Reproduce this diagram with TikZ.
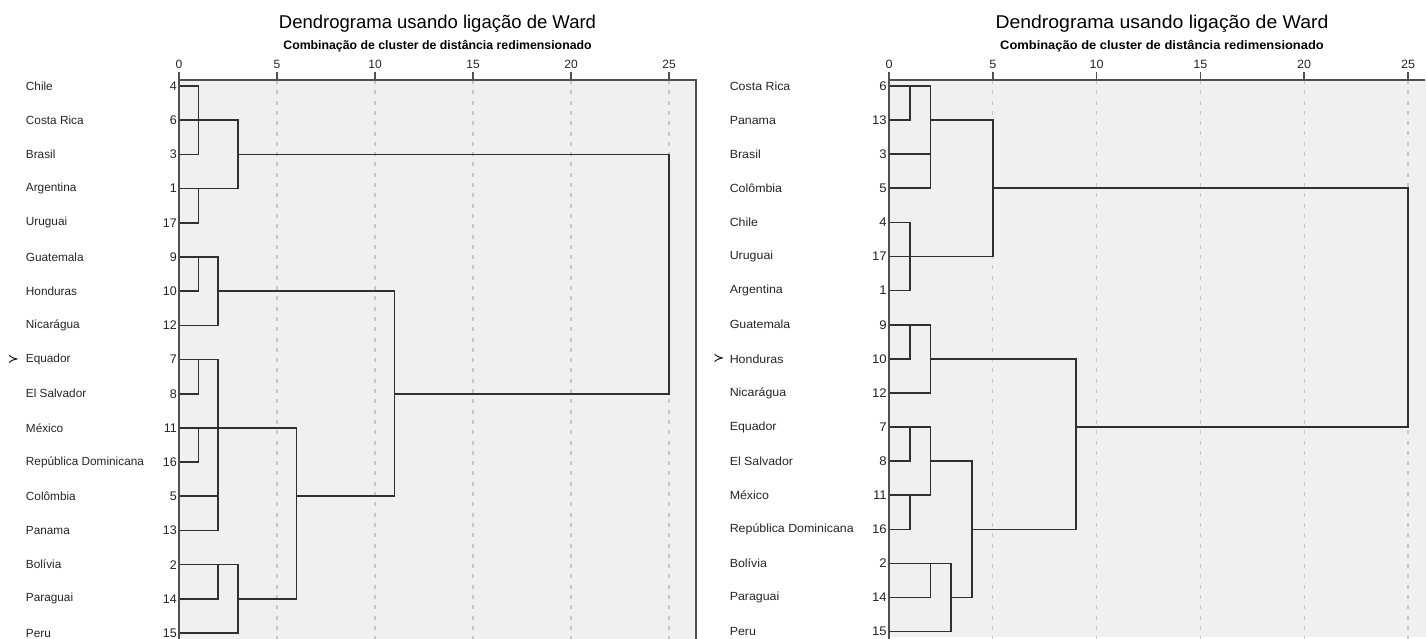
\documentclass[tikz,border=0pt]{standalone}
\usepackage{fontspec}
\setmainfont{Liberation Sans}
\newfontfamily\symfont{DejaVu Sans}
\definecolor{panelbg}{HTML}{F0F0F0}
\definecolor{treeline}{HTML}{303030}
\definecolor{gridc}{HTML}{C8C8C8}
\definecolor{borderc}{HTML}{505050}
\begin{document}
\begin{tikzpicture}[x=1pt,y=-1pt,
  tree/.style={draw=treeline,line width=1.6pt,line cap=rect},
  gridl/.style={draw=gridc,line width=1.3pt,dash pattern=on 4pt off 6.3pt},
  frame/.style={draw=borderc,line width=1.6pt},
  country/.style={anchor=west,inner sep=0pt,font=\fontsize{11.8}{13}\selectfont,text=black!85},
  leafnum/.style={anchor=east,inner sep=0pt,font=\fontsize{12.5}{14}\selectfont,text=black!85},
  ticklab/.style={inner sep=0pt,font=\fontsize{12}{13}\selectfont,text=black!85},
  ttl/.style={inner sep=0pt,font=\fontsize{18.5}{20}\selectfont},
  subttl/.style={inner sep=0pt,font=\bfseries\fontsize{12.3}{14}\selectfont}]
\useasboundingbox (0,0) rectangle (1426,639);
\fill[white] (0,0) rectangle (1426,639);

% ================= LEFT PANEL =================
\fill[panelbg] (179,80) rectangle (696,639);
\node[ttl] (titleL) at (437.5,24) {Dendrograma usando ligação de Ward};
\node[subttl] (subL) at (437.5,46) {Combinação de cluster de distância redimensionado};
\begin{scope}[shift={(179,86)},x=19.6pt,y=-34.19pt]
  \foreach \v in {5,10,15,20,25} \draw[gridl] (\v,-0.175) -- (\v,16.5);
  \foreach \v in {0,5,10,15,20,25} {
    \draw[frame] (\v,-0.175) -- ++(0pt,8pt);
    \node[ticklab] (tL\v) at (\v,-0.175) [yshift=16pt] {\v};
  }
  \foreach \r/\n/\c in {0/4/Chile,1/6/Costa Rica,2/3/Brasil,3/1/Argentina,4/17/Uruguai,
      5/9/Guatemala,6/10/Honduras,7/12/Nicarágua,8/7/Equador,9/8/El Salvador,10/11/México,
      11/16/República Dominicana,12/5/Colômbia,13/13/Panama,14/2/Bolívia,15/14/Paraguai,16/15/Peru} {
    \node[leafnum] (nL\r) at (0,\r) [xshift=-2pt] {\n};
    \node[country] (cL\r) at (-7.82,\r) {\c};
  }
  \foreach \r/\a/\b in {0/0/1,1/0/3,2/0/1,2/3/25,3/0/3,4/0/1,5/0/2,6/0/1,6/2/11,7/0/2,
      8/0/2,9/0/1,9/11/25,10/0/6,11/0/1,12/0/2,12/6/11,13/0/2,14/0/3,15/0/2,15/3/6,16/0/3}
    \draw[tree] (\a,\r) -- (\b,\r);
  \foreach \v/\a/\b in {1/0/2,3/1/3,25/2/9,1/3/4,1/5/6,2/5/7,11/6/12,1/8/9,2/8/13,
      1/10/11,6/10/15,2/14/15,3/14/16}
    \draw[tree] (\v,\a) -- (\v,\b);
  \draw[frame] (0,16.5) -- (0,-0.175) -- (26.38,-0.175) -- (26.38,16.5);
  \node[inner sep=0pt,font=\symfont\fontsize{13}{14}\selectfont] (markL) at (-8.45,8) {≻};
\end{scope}

% ================= RIGHT PANEL =================
\fill[panelbg] (889,80) rectangle (1426,637);
\node[ttl,xscale=1.05,transform shape] (titleR) at (1162,24) {Dendrograma usando ligação de Ward};
\node[subttl,xscale=1.05,transform shape] (subR) at (1162,46) {Combinação de cluster de distância redimensionado};
\begin{scope}[shift={(889,86)},x=20.76pt,y=-34.1pt]
  \foreach \v in {5,10,15,20,25} \draw[gridl] (\v,-0.176) -- (\v,16.3);
  \foreach \v in {0,5,10,15,20,25} {
    \draw[frame] (\v,-0.176) -- ++(0pt,8pt);
    \node[ticklab,xscale=1.05,transform shape] (tR\v) at (\v,-0.176) [yshift=16pt] {\v};
  }
  \foreach \r/\n/\c in {0/6/Costa Rica,1/13/Panama,2/3/Brasil,3/5/Colômbia,4/4/Chile,
      5/17/Uruguai,6/1/Argentina,7/9/Guatemala,8/10/Honduras,9/12/Nicarágua,10/7/Equador,
      11/8/El Salvador,12/11/México,13/16/República Dominicana,14/2/Bolívia,15/14/Paraguai,16/15/Peru} {
    \node[leafnum,xscale=1.05,transform shape] (nR\r) at (0,\r) [xshift=-2pt] {\n};
    \node[country,xscale=1.05,transform shape] (cR\r) at (-7.68,\r) {\c};
  }
  \foreach \r/\a/\b in {0/0/2,1/0/1,1/2/5,2/0/2,3/0/2,3/5/25,4/0/1,5/0/5,6/0/1,7/0/2,
      8/0/1,8/2/9,9/0/2,10/0/2,10/9/25,11/0/1,11/2/4,12/0/2,13/0/1,13/4/9,14/0/3,15/0/2,15/3/4,16/0/3}
    \draw[tree] (\a,\r) -- (\b,\r);
  \foreach \v/\a/\b in {1/0/1,2/0/3,5/1/5,25/3/10,1/4/6,1/7/8,2/7/9,9/8/13,1/10/11,
      2/10/12,1/12/13,4/11/15,2/14/15,3/14/16}
    \draw[tree] (\v,\a) -- (\v,\b);
  \draw[frame] (0,-0.176) -- (0,16.3) -- (25.8,16.3);
  \draw[frame] (0,-0.176) -- (25.8,-0.176);
  \node[inner sep=0pt,font=\symfont\fontsize{13}{14}\selectfont] (markR) at (-8.2,8) {≻};
\end{scope}
\end{tikzpicture}
\end{document}
